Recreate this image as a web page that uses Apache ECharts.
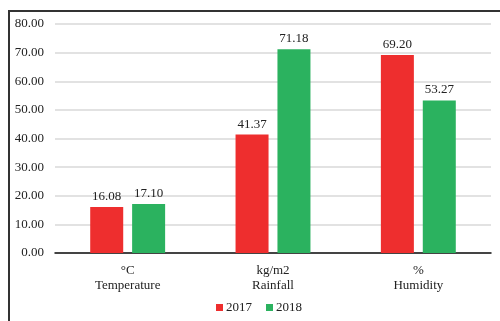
<!DOCTYPE html>
<html>
<head>
<meta charset="utf-8">
<script src="https://cdn.jsdelivr.net/npm/echarts@6/dist/echarts.min.js"></script>
<style>
  html, body { margin: 0; padding: 0; background: #fff; }
  #chart { width: 500px; height: 321px; }
</style>
</head>
<body>
<div id="chart"></div>
<script>
// Climate indicators compared between two years
const categories = ['°C\nTemperature', 'kg/m2\nRainfall', '%\nHumidity'];
const values2017 = [16.08, 41.37, 69.20];
const values2018 = [17.10, 71.18, 53.27];
const seriesNames = ['2017', '2018'];

const font = 'Liberation Serif, Times New Roman, serif';

const chart = echarts.init(document.getElementById('chart'));
chart.setOption({
  animation: false,
  textStyle: { fontFamily: font },
  graphic: [{
    type: 'rect',
    shape: { x: 9, y: 11, width: 600, height: 400 },
    style: { fill: 'none', stroke: '#333', lineWidth: 2 },
    silent: true
  }],
  grid: { left: 55, right: 9, top: 24, bottom: 68 },
  legend: {
    bottom: 2,
    left: 211,
    itemWidth: 7,
    itemHeight: 7,
    itemGap: 14,
    icon: 'rect',
    textStyle: { fontFamily: font, fontSize: 13, color: '#222', padding: [0, 0, 0, -2] },
    data: seriesNames
  },
  xAxis: {
    type: 'category',
    data: categories,
    axisLine: { lineStyle: { color: '#111', width: 1.5 } },
    axisTick: { show: false },
    axisLabel: { fontFamily: font, fontSize: 13, color: '#222', lineHeight: 15, margin: 10 }
  },
  yAxis: {
    type: 'value',
    min: 0,
    max: 80,
    interval: 10,
    axisLine: { show: false },
    axisTick: { show: false },
    splitLine: { lineStyle: { color: '#d9d9d9', width: 1.5 } },
    axisLabel: {
      fontFamily: font, fontSize: 13, color: '#222', margin: 11,
      formatter: v => v.toFixed(2)
    }
  },
  series: [
    {
      name: seriesNames[0],
      type: 'bar',
      data: values2017,
      barWidth: 33,
      barGap: '27%',
      itemStyle: { color: '#ee2e2e' },
      label: {
        show: true, position: 'top', distance: 4,
        fontFamily: font, fontSize: 13, color: '#222',
        formatter: p => p.value.toFixed(2)
      }
    },
    {
      name: seriesNames[1],
      type: 'bar',
      data: values2018,
      barWidth: 33,
      itemStyle: { color: '#2bb25f' },
      label: {
        show: true, position: 'top', distance: 4,
        fontFamily: font, fontSize: 13, color: '#222',
        formatter: p => p.value.toFixed(2)
      }
    }
  ]
});
</script>
</body>
</html>
